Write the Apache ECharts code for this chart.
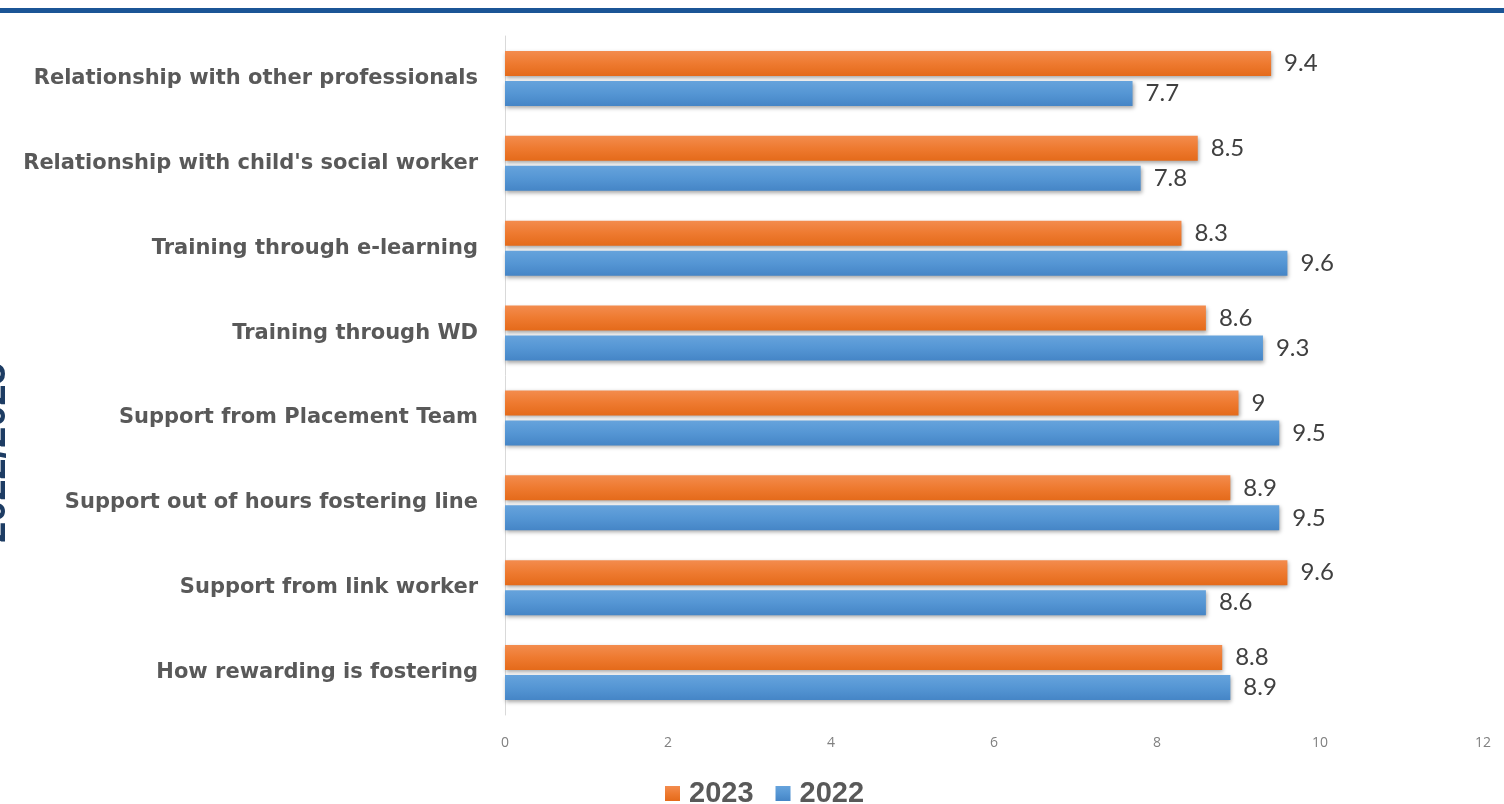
<!DOCTYPE html>
<html>
<head>
<meta charset="utf-8">
<script src="https://cdn.jsdelivr.net/npm/echarts@6/dist/echarts.min.js"></script>
<style>
  html, body { margin: 0; padding: 0; background: #fff; }
  #chart { width: 1504px; height: 804px; }
</style>
</head>
<body>
<div id="chart"></div>
<script>
// categories, top to bottom as in the picture
const categories = [
  'Relationship with other professionals',
  "Relationship with child's social worker",
  'Training through e-learning',
  'Training through WD',
  'Support from Placement Team',
  'Support out of hours fostering line',
  'Support from link worker',
  'How rewarding is fostering'
]
const values2023 = [9.4, 8.5, 8.3, 8.6, 9, 8.9, 9.6, 8.8]
const values2022 = [7.7, 7.8, 9.6, 9.3, 9.5, 9.5, 8.6, 8.9]
const xTicks = { min: 0, max: 12, interval: 2 }

const chart = echarts.init(document.getElementById('chart'))

const orange = new echarts.graphic.LinearGradient(0, 0, 0, 1, [
  { offset: 0, color: '#f38c4e' },
  { offset: 0.5, color: '#ee7a30' },
  { offset: 1, color: '#e46a1a' }
])
const blue = new echarts.graphic.LinearGradient(0, 0, 0, 1, [
  { offset: 0, color: '#66a3dc' },
  { offset: 0.5, color: '#5596d4' },
  { offset: 1, color: '#4585c6' }
])

const valueLabel = {
  show: true,
  position: 'right',
  distance: 13,
  fontFamily: 'Lato',
  fontSize: 24,
  color: '#404040'
}

const barShadow = {
  shadowColor: 'rgba(0,0,0,0.35)',
  shadowBlur: 4,
  shadowOffsetX: 1,
  shadowOffsetY: 2
}

chart.setOption({
  animation: false,
  graphic: [
    {
      type: 'rect',
      shape: { x: 0, y: 8, width: 1504, height: 5 },
      style: { fill: '#1b5596' }
    },
    // side title, mostly cut off by the left edge
    {
      type: 'text',
      x: 14,
      y: 453,
      rotation: Math.PI / 2,
      style: {
        text: '2022/2023',
        fontFamily: 'Liberation Sans',
        fontWeight: 'bold',
        fontSize: 38,
        fill: '#1d3c63',
        align: 'center',
        verticalAlign: 'bottom'
      }
    }
  ],
  grid: { left: 505, right: 21, top: 36, bottom: 89, containLabel: false },
  legend: {
    data: ['2023', '2022'],
    left: 660,
    bottom: -9,
    itemWidth: 15,
    itemHeight: 15,
    itemGap: 22,
    icon: 'rect',
    textStyle: {
      fontFamily: 'Liberation Sans',
      fontWeight: 'bold',
      fontSize: 29,
      color: '#595959',
      padding: [0, 0, 0, 4]
    }
  },
  xAxis: {
    type: 'value',
    min: xTicks.min,
    max: xTicks.max,
    interval: xTicks.interval,
    axisLine: { show: false },
    axisTick: { show: false },
    splitLine: { show: false },
    axisLabel: {
      margin: 21,
      fontFamily: 'Open Sans',
      fontSize: 14,
      color: '#808080'
    }
  },
  yAxis: {
    type: 'category',
    data: categories,
    inverse: true,
    axisLine: { show: true, lineStyle: { color: '#d9d9d9', width: 1 } },
    axisTick: { show: false },
    axisLabel: {
      margin: 27,
      fontFamily: 'DejaVu Sans',
      fontWeight: 'bold',
      fontSize: 21,
      color: '#595959'
    }
  },
  series: [
    {
      name: '2023',
      type: 'bar',
      data: values2023,
      barWidth: 25,
      barGap: '20%',
      itemStyle: Object.assign({ color: orange }, barShadow),
      label: valueLabel
    },
    {
      name: '2022',
      type: 'bar',
      data: values2022,
      barWidth: 25,
      barGap: '20%',
      itemStyle: Object.assign({ color: blue }, barShadow),
      label: valueLabel
    }
  ]
})
</script>
</body>
</html>
